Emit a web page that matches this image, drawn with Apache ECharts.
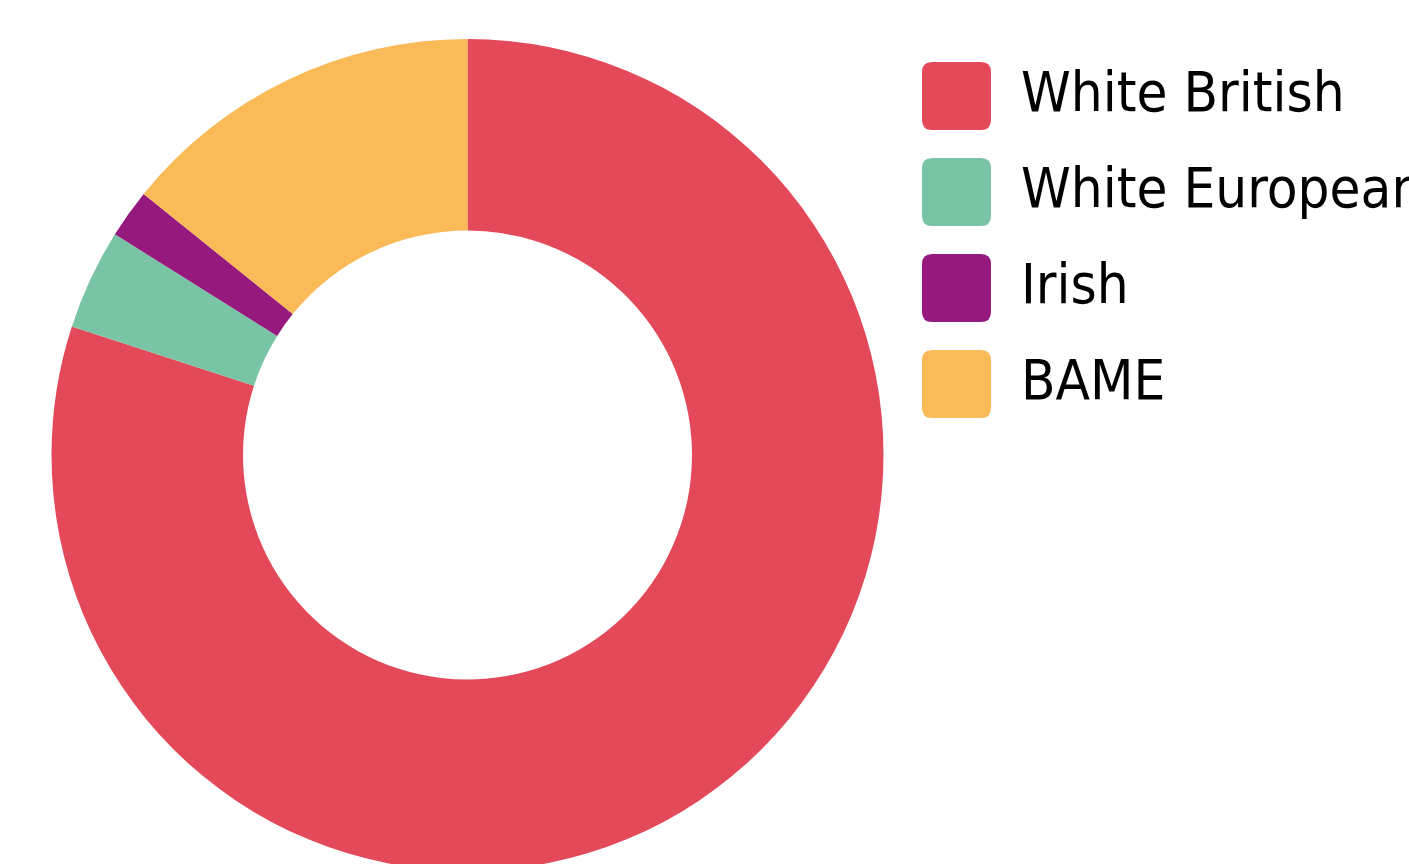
<!DOCTYPE html>
<html>
<head>
<meta charset="utf-8">
<script src="https://cdn.jsdelivr.net/npm/echarts@6/dist/echarts.min.js"></script>
<style>
  html, body { margin: 0; padding: 0; background: #fff; }
  #chart { width: 1409px; height: 864px; }
</style>
</head>
<body>
<div id="chart"></div>
<script>
// groups and share (%)
const groups = ['White British', 'White European', 'Irish', 'BAME']
const shares = [80, 3.9, 1.9, 14.2]
const colors = ['#E4495A', '#79C4A5', '#961A7E', '#FABA57']

// rounded square legend marker
const roundSquare = 'path://M10,0 L59,0 Q69,0 69,10 L69,58 Q69,68 59,68 L10,68 Q0,68 0,58 L0,10 Q0,0 10,0 Z'

const mychart = echarts.init(document.getElementById('chart'))
const option = {
  animation: false,
  color: colors,
  legend: {
    orient: 'vertical',
    left: 922,
    top: 54.5,
    padding: 0,
    itemWidth: 69,
    itemHeight: 68,
    itemGap: 13,
    icon: roundSquare,
    selectedMode: false,
    data: groups,
    textStyle: {
      fontFamily: '"DejaVu Sans Condensed", sans-serif',
      fontSize: 56,
      lineHeight: 50,
      color: '#000',
      // top padding pushes the label down to sit level with the marker
      padding: [33, 0, 0, 25]
    }
  },
  series: [
    {
      type: 'pie',
      center: [467.5, 455],
      radius: [224.5, 416],
      startAngle: 90,
      clockwise: true,
      silent: true,
      label: { show: false },
      labelLine: { show: false },
      data: groups.map((name, i) => ({ name: name, value: shares[i] }))
    }
  ]
}
mychart.setOption(option)
</script>
</body>
</html>
